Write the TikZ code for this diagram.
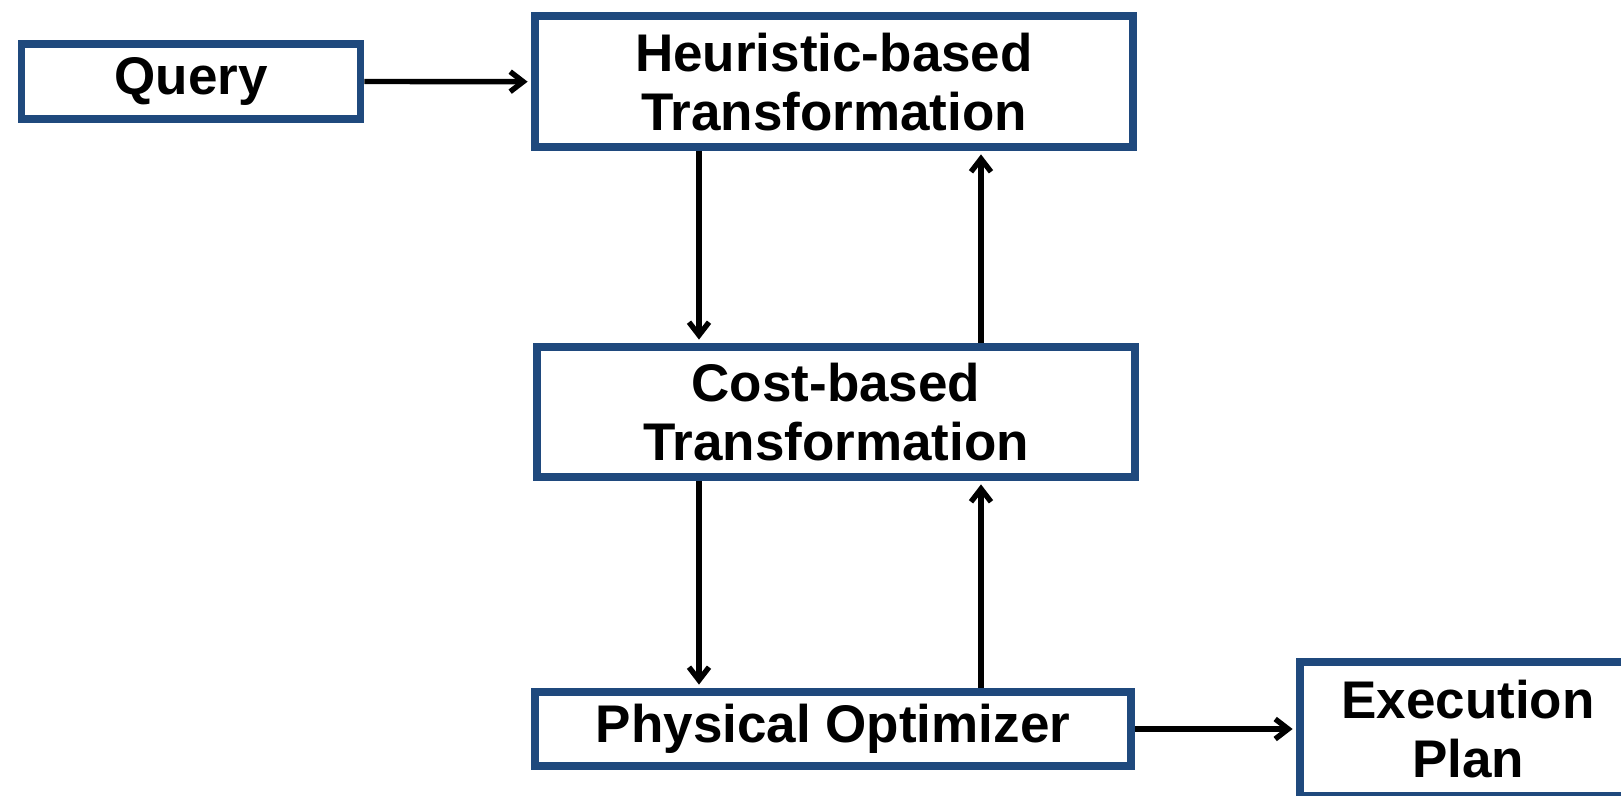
\documentclass[tikz,border=0pt]{standalone}
\usepackage{fontspec}
\setmainfont{Liberation Sans}
\usetikzlibrary{arrows.meta}
\definecolor{boxblue}{HTML}{1F497D}
\begin{document}
\begin{tikzpicture}[x=0.5pt,y=-0.5pt,
  box/.style={draw=boxblue,line width=3.8pt,fill=white,align=center,inner sep=0pt,
    font=\bfseries\fontsize{26.5}{29.5}\selectfont},
  flow/.style={-{Straight Barb[length=6.5pt,width=10pt]},line width=2.7pt,shorten >=1.7pt}]
  \useasboundingbox (0,0) rectangle (1621,796);
  % input
  \node[box,minimum width=169.5pt,minimum height=37.7pt] (query) at (191,81.5) {Query};
  % transformations
  \node[box,minimum width=299.2pt,minimum height=65.5pt] (heur) at (834,81.7) {Heuristic-based\\Transformation};
  \node[box,minimum width=299.2pt,minimum height=65.2pt] (cost) at (836,412) {Cost-based\\Transformation};
  % optimizer
  \node[box,minimum width=298.2pt,minimum height=37.2pt] (phys) at (833,729) {Physical Optimizer};
  % output
  \node[box,minimum width=168.2pt,minimum height=67.2pt] (plan) at (1468,729) {Execution\\Plan};

  \coordinate (dn) at (699,0);
  \coordinate (up) at (981,0);

  % horizontal
  \draw[flow] (query.east) -- (heur.west);
  \draw[flow] (phys.east) -- (plan.west);
  % down
  \draw[flow] (heur.south -| dn) -- (cost.north -| dn);
  \draw[flow] (cost.south -| dn) -- (phys.north -| dn);
  % up
  \draw[flow] (cost.north -| up) -- (heur.south -| up);
  \draw[flow] (phys.north -| up) -- (cost.south -| up);
\end{tikzpicture}
\end{document}
